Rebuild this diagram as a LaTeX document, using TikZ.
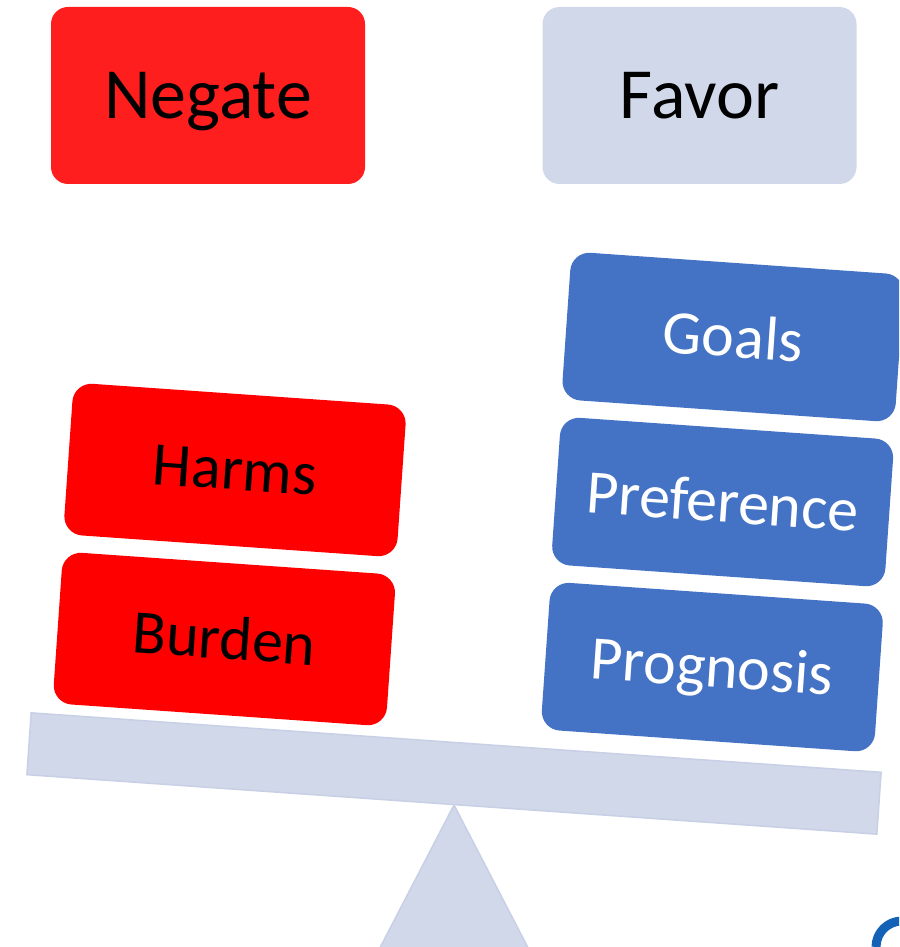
\documentclass[tikz,border=0pt]{standalone}
\usepackage{fontspec}
\setmainfont{Carlito}
\usepackage{tikz}
\usetikzlibrary{positioning}
\definecolor{negred}{HTML}{FF1E1E}
\definecolor{boxred}{HTML}{FF0000}
\definecolor{boxblue}{HTML}{4472C4}
\definecolor{lavender}{HTML}{D1D8EA}
\definecolor{lavedge}{HTML}{C8D0E6}
\definecolor{logoblue}{HTML}{1462B8}

\begin{document}
\begin{tikzpicture}[x=1pt, y=1pt, node distance=17pt,
  head/.style   = {rectangle, rounded corners=17pt, inner sep=0pt,
                   minimum width=314pt, minimum height=177pt,
                   text height=46pt, text depth=0pt,
                   font=\fontsize{72}{80}\selectfont},
  weight/.style = {rectangle, rounded corners=19pt, inner sep=0pt,
                   minimum width=334pt, rotate=-4,
                   text height=40pt, text depth=0pt,
                   font=\fontsize{62}{70}\selectfont},
  con/.style    = {weight, fill=boxred, minimum height=152pt},
  pro/.style    = {weight, fill=boxblue, text=white, minimum height=148pt},
]
  \clip (0,0) rectangle (899,947);

  \node[head, fill=negred] (negate) at (208,851.5) {Negate};
  \node[head, fill=lavender] (favor) at (699.5,851.5) {Favor};

  % balance: beam and fulcrum
  \coordinate (pivot) at (454,142);
  \fill[lavender, draw=lavedge, line width=1.5pt]
    (pivot) -- (370,-20) -- (538,-20) -- cycle;
  \node[rectangle, fill=lavender, draw=lavedge, line width=1.5pt,
        rotate=-4, minimum width=852pt, minimum height=62pt]
    (beam) at (454,173.5) {};

  % weights on the left pan
  \node[con] (harms) at (235,477) {Harms};
  \node[con, below=of harms] (burden) {Burden};

  % weights on the right pan
  \node[pro] (goals) at (733,610) {Goals};
  \node[pro, below=of goals] (preference) {Preference};
  \node[pro, below=of preference] (prognosis) {Prognosis};

  % cut-off logo in the corner
  \draw[logoblue, line width=9pt] (876,0) arc[start angle=180, end angle=90, radius=26];
\end{tikzpicture}
\end{document}
